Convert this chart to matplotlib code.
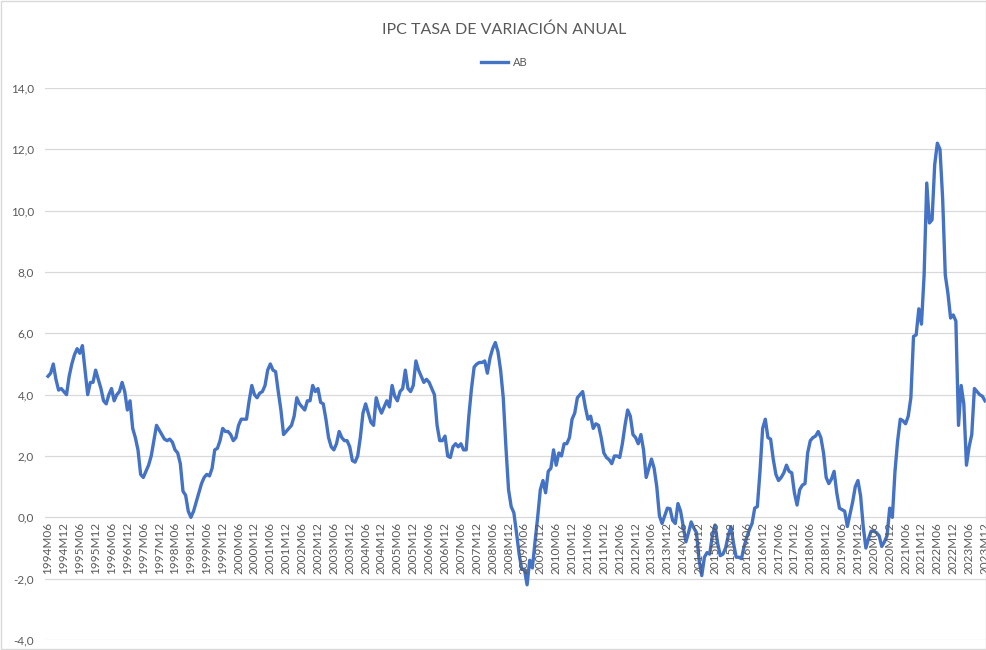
import numpy as np
import pandas as pd
from matplotlib import pyplot as plt
from matplotlib.patches import Rectangle

# Monthly annual CPI rate, 1994M06 .. 2023M12
ab = [
    4.6, 4.7, 5.0, 4.5, 4.15, 4.2, 4.1,                                  # 1994 (Jun-Dec)
    4.0, 4.6, 5.0, 5.3, 5.5, 5.35, 5.6, 4.8, 4.0, 4.4, 4.4, 4.8,          # 1995
    4.5, 4.2, 3.8, 3.7, 4.0, 4.2, 3.8, 4.0, 4.1, 4.4, 4.1, 3.5,           # 1996
    3.8, 2.9, 2.6, 2.2, 1.4, 1.3, 1.5, 1.7, 2.0, 2.5, 3.0, 2.85,          # 1997
    2.7, 2.55, 2.5, 2.55, 2.45, 2.2, 2.1, 1.75, 0.85, 0.72, 0.2, 0.0,     # 1998
    0.2, 0.5, 0.8, 1.1, 1.3, 1.4, 1.35, 1.6, 2.2, 2.25, 2.5, 2.9,         # 1999
    2.8, 2.8, 2.7, 2.5, 2.6, 3.0, 3.2, 3.2, 3.2, 3.8, 4.3, 4.0,           # 2000
    3.9, 4.05, 4.1, 4.3, 4.8, 5.0, 4.8, 4.75, 4.1, 3.5, 2.7, 2.8,         # 2001
    2.9, 3.0, 3.3, 3.9, 3.7, 3.6, 3.5, 3.8, 3.8, 4.3, 4.1, 4.2,           # 2002
    3.75, 3.7, 3.2, 2.6, 2.3, 2.2, 2.4, 2.8, 2.6, 2.5, 2.5, 2.3,          # 2003
    1.85, 1.8, 2.0, 2.6, 3.4, 3.7, 3.4, 3.1, 3.0, 3.9, 3.6, 3.4,          # 2004
    3.6, 3.8, 3.6, 4.3, 3.95, 3.8, 4.1, 4.2, 4.8, 4.2, 4.1, 4.3,          # 2005
    5.1, 4.8, 4.6, 4.4, 4.5, 4.4, 4.2, 4.0, 3.0, 2.5, 2.5, 2.65,          # 2006
    2.0, 1.95, 2.3, 2.4, 2.3, 2.4, 2.2, 2.2, 3.3, 4.2, 4.9, 5.0,          # 2007
    5.05, 5.05, 5.1, 4.7, 5.2, 5.5, 5.7, 5.4, 4.8, 3.9, 2.3, 0.9,         # 2008
    0.35, 0.15, -0.5, -1.2, -1.7, -1.7, -2.2, -1.4, -1.65, -0.8, 0.0, 0.9,  # 2009
    1.2, 0.8, 1.5, 1.6, 2.2, 1.7, 2.1, 2.0, 2.4, 2.4, 2.6, 3.2,           # 2010
    3.4, 3.9, 4.0, 4.1, 3.6, 3.2, 3.3, 2.9, 3.05, 3.0, 2.6, 2.1,          # 2011
    1.95, 1.88, 1.75, 2.0, 2.0, 1.95, 2.4, 3.0, 3.5, 3.3, 2.7, 2.6,       # 2012
    2.4, 2.7, 2.2, 1.3, 1.6, 1.9, 1.6, 1.0, 0.05, -0.2, 0.05, 0.3,        # 2013
    0.28, -0.1, -0.2, 0.45, 0.2, -0.3, -0.8, -0.5, -0.15, -0.35, -0.5, -1.4,  # 2014
    -1.9, -1.3, -1.15, -1.2, -0.6, -0.25, -0.85, -1.25, -1.2, -1.0, -0.6, -0.3,  # 2015
    -0.85, -1.3, -1.3, -1.35, -0.95, -0.65, -0.4, -0.2, 0.3, 0.35, 1.5, 2.9,  # 2016
    3.2, 2.6, 2.55, 1.9, 1.4, 1.2, 1.3, 1.45, 1.7, 1.5, 1.45, 0.8,        # 2017
    0.4, 0.9, 1.05, 1.1, 2.1, 2.5, 2.6, 2.65, 2.8, 2.6, 2.1, 1.3,         # 2018
    1.1, 1.25, 1.5, 0.8, 0.3, 0.25, 0.2, -0.3, 0.1, 0.5, 1.0, 1.2,        # 2019
    0.7, -0.3, -1.0, -0.7, -0.45, -0.45, -0.5, -0.6, -0.95, -0.8, -0.6, 0.3,  # 2020
    0.0, 1.5, 2.5, 3.2, 3.15, 3.05, 3.3, 3.9, 5.9, 5.95, 6.8, 6.3,        # 2021
    7.9, 10.9, 9.6, 9.7, 11.5, 12.2, 12.0, 10.4, 7.9, 7.3, 6.5, 6.6,      # 2022
    6.4, 3.0, 4.3, 3.7, 1.7, 2.3, 2.7, 4.2, 4.1, 4.0, 3.95, 3.8,          # 2023
]

periods = pd.period_range('1994-06', '2023-12', freq='M')
categories = [f"{p.year}M{p.month:02d}" for p in periods]
y_ticks = np.arange(-4, 15, 2)

plt.rcParams['font.family'] = ['Lato', 'DejaVu Sans']
grey = '#595959'

fig = plt.figure(figsize=(9.87, 6.5), dpi=100)
ax = fig.add_axes([45 / 987, 10 / 650, 942 / 987, 552 / 650])

x = np.arange(len(categories))
ax.plot(x, ab, color='#4472C4', lw=2.4, label='AB', solid_joinstyle='round')

ax.set_xlim(-1.13, len(categories) - 1 + 0.76)
ax.set_ylim(-4, 14)
ax.set_yticks(y_ticks)
ax.set_yticklabels([f"{v:.1f}".replace('.', ',') for v in y_ticks])
ax.grid(axis='y', color='#d9d9d9', lw=0.9)
ax.set_axisbelow(True)
ax.set_xticks([])
ax.tick_params(axis='y', length=0, pad=8, labelsize=8.5, labelcolor=grey)
for s in ax.spines.values():
    s.set_visible(False)

# category labels every 6 months, hanging below the zero line
for i in range(0, len(categories), 6):
    ax.text(i, -0.16, categories[i], rotation=90, ha='center', va='top',
            fontsize=8.5, color=grey)

fig.text(0.511, 1 - 30 / 650, 'IPC TASA DE VARIACIÓN ANUAL', ha='center',
         va='center', fontsize=11.5, color=grey)
fig.legend(loc='center', bbox_to_anchor=(0.511, 1 - 62 / 650), frameon=False,
           fontsize=8, handlelength=2.4, handletextpad=0.4, labelcolor=grey)

fig.patches.append(Rectangle((0.001, 0.001), 0.998, 0.998, transform=fig.transFigure,
                             fill=False, edgecolor='#d9d9d9', lw=1))

fig.savefig('out.png', dpi=100)
